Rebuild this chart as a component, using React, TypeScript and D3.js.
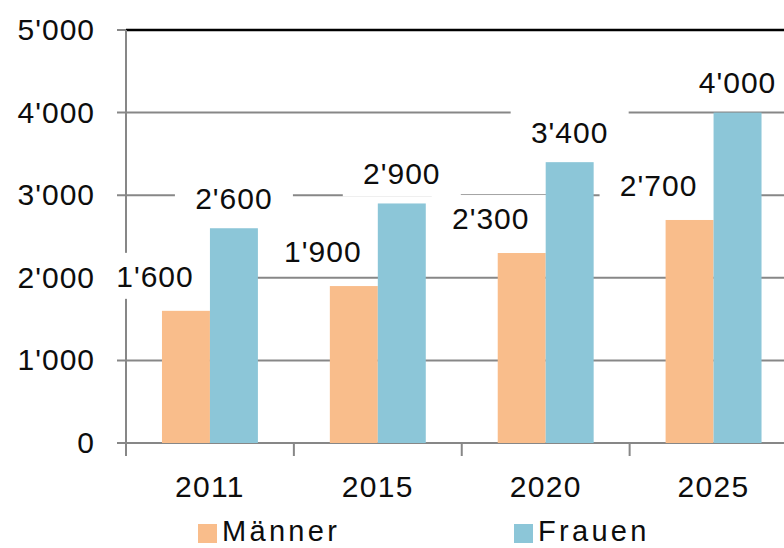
import React from "react";
import * as d3 from "d3";

const years = ["2011", "2015", "2020", "2025"];
const series = ["Männer", "Frauen"];
const maenner = [1600, 1900, 2300, 2700];
const frauen = [2600, 2900, 3400, 4000];
const yTicks = [0, 1000, 2000, 3000, 4000, 5000];
const colors = ["#F9BD8B", "#8CC6D8"];

const W = 784;
const H = 548;
const margin = { top: 30, left: 126, bottom: 105 };
const plotRight = 797.5; // plot runs past the right edge (cropped)

const locale = d3.formatLocale({ decimal: ".", thousands: "'", grouping: [3], currency: ["", ""] });
const fmt = locale.format(",");

const App = () => {
  const y = d3.scaleLinear().domain([0, 5000]).range([H - margin.bottom, margin.top]);
  const x = d3.scaleBand().domain(years).range([margin.left, plotRight]);
  const xs = d3.scaleBand().domain(series).range([0, x.bandwidth()]).paddingOuter(0.75);

  const data = [maenner, frauen];
  const font = "'Liberation Sans', Arial, sans-serif";
  const grid = "#878787";
  const ink = "#0d0d0d";

  // label positions: Männer labels sit left of their bar, Frauen centered
  const labels = years.flatMap((yr, i) =>
    series.map((s, k) => {
      const v = data[k][i];
      const cx = x(yr)! + xs(s)! + xs.bandwidth() / 2;
      return {
        key: yr + s,
        text: fmt(v),
        x: k === 0 ? cx - 31 : cx,
        y: y(v) - (k === 0 ? 35 : 30),
      };
    })
  );

  const boxW = 118;
  const boxH = 46;

  return (
    <svg width={W} height={H} style={{ position: "absolute", left: 0, top: 0, background: "#fff" }}>
      <rect width={W} height={H} fill="#fff" />
      {/* grid lines */}
      {yTicks.filter(t => t > 0 && t < 5000).map(t => (
        <line key={t} x1={margin.left - 9} x2={W} y1={y(t)} y2={y(t)} stroke={grid} strokeWidth={2} />
      ))}
      <line x1={margin.left - 9} x2={margin.left} y1={y(5000)} y2={y(5000)} stroke={grid} strokeWidth={2} />
      <line x1={margin.left} x2={W} y1={y(5000)} y2={y(5000)} stroke="#000" strokeWidth={2.5} />
      {/* y axis */}
      <line x1={margin.left} x2={margin.left} y1={y(5000)} y2={y(0) + 13} stroke={grid} strokeWidth={2} />
      {/* x axis */}
      <line x1={margin.left - 9} x2={W} y1={y(0)} y2={y(0)} stroke={grid} strokeWidth={2} />
      {years.map(yr => (
        <line key={yr} x1={x(yr)! + x.bandwidth()} x2={x(yr)! + x.bandwidth()} y1={y(0)} y2={y(0) + 13} stroke={grid} strokeWidth={2} />
      ))}
      {/* white label boxes over grid lines */}
      {labels.map(l => (
        <rect key={l.key} x={l.x - boxW / 2} y={l.y - boxH / 2} width={boxW} height={boxH} fill="#fff" />
      ))}
      {/* bars */}
      {series.map((s, k) =>
        years.map((yr, i) => (
          <rect
            key={s + yr}
            x={x(yr)! + xs(s)!}
            y={y(data[k][i])}
            width={xs.bandwidth()}
            height={y(0) - y(data[k][i])}
            fill={colors[k]}
          />
        ))
      )}
      {/* value labels */}
      {labels.map(l => (
        <text key={l.key} x={l.x} y={l.y} dy="0.36em" textAnchor="middle" fontFamily={font} fontSize={30} letterSpacing={1} fill={ink}>
          {l.text}
        </text>
      ))}
      {/* y tick labels */}
      {yTicks.map(t => (
        <text key={t} x={95} y={y(t)} dy="0.33em" textAnchor="end" fontFamily={font} fontSize={30} letterSpacing={1} fill={ink}>
          {fmt(t)}
        </text>
      ))}
      {/* x labels */}
      {years.map(yr => (
        <text key={yr} x={x(yr)! + x.bandwidth() / 2} y={497} textAnchor="middle" fontFamily={font} fontSize={30} letterSpacing={1.3} fill={ink}>
          {yr}
        </text>
      ))}
      {/* legend */}
      {series.map((s, k) => {
        const lx = k === 0 ? 198 : 514;
        return (
          <g key={s}>
            <rect x={lx} y={524} width={19} height={19} fill={colors[k]} />
            <text x={lx + 24} y={541} fontFamily={font} fontSize={29} letterSpacing={3.3} fill={ink}>
              {s}
            </text>
          </g>
        );
      })}
    </svg>
  );
};

export default App;
